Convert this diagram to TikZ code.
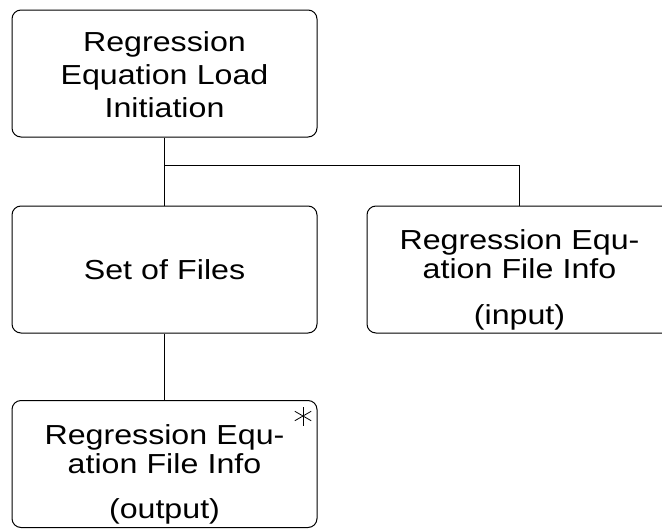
\documentclass[tikz,border=0pt]{standalone}
\usepackage{fontspec}
\setmainfont{Liberation Sans}[FakeStretch=1.17]
\begin{document}
\begin{tikzpicture}
  [x=1pt,y=-1pt,
   every node/.style={draw,rounded corners=9pt,line width=1pt,minimum width=305pt,
     minimum height=127pt,text width=300pt,align=center,inner sep=0pt,
     font=\fontsize{27.5}{29}\selectfont},
   threeline/.style={text height=20pt,text depth=60pt}]
  \useasboundingbox (0,0) rectangle (662,528);
  \clip (0,0) rectangle (662,528);

  \node (init) at (164.5,73.5) [text height=20pt,text depth=63.6pt] {Regression\\[4pt]Equation Load\\[4pt]Initiation};
  \node (files) at (164.5,269.5) {Set of Files};
  \node[threeline] (fin) at (519.5,269.5) {Regression Equ-\\ation File Info\\[17pt](input)};
  \node[threeline] (fout) at (164.5,464) {Regression Equ-\\ation File Info\\[16pt](output)};

  \coordinate (fork) at (164.5,165);
  \draw[line width=.8pt] (init) -- (files);
  \draw[line width=.8pt] (fork) -| (fin);
  \draw[line width=.8pt] (files) -- (fout);

  % multiple-occurrence mark
  \coordinate (mark) at (303,416);
  \foreach \a in {90,30,150}
    \draw[line width=.8pt] (mark) ++(\a:9.5) -- ++(\a+180:19);
\end{tikzpicture}
\end{document}
